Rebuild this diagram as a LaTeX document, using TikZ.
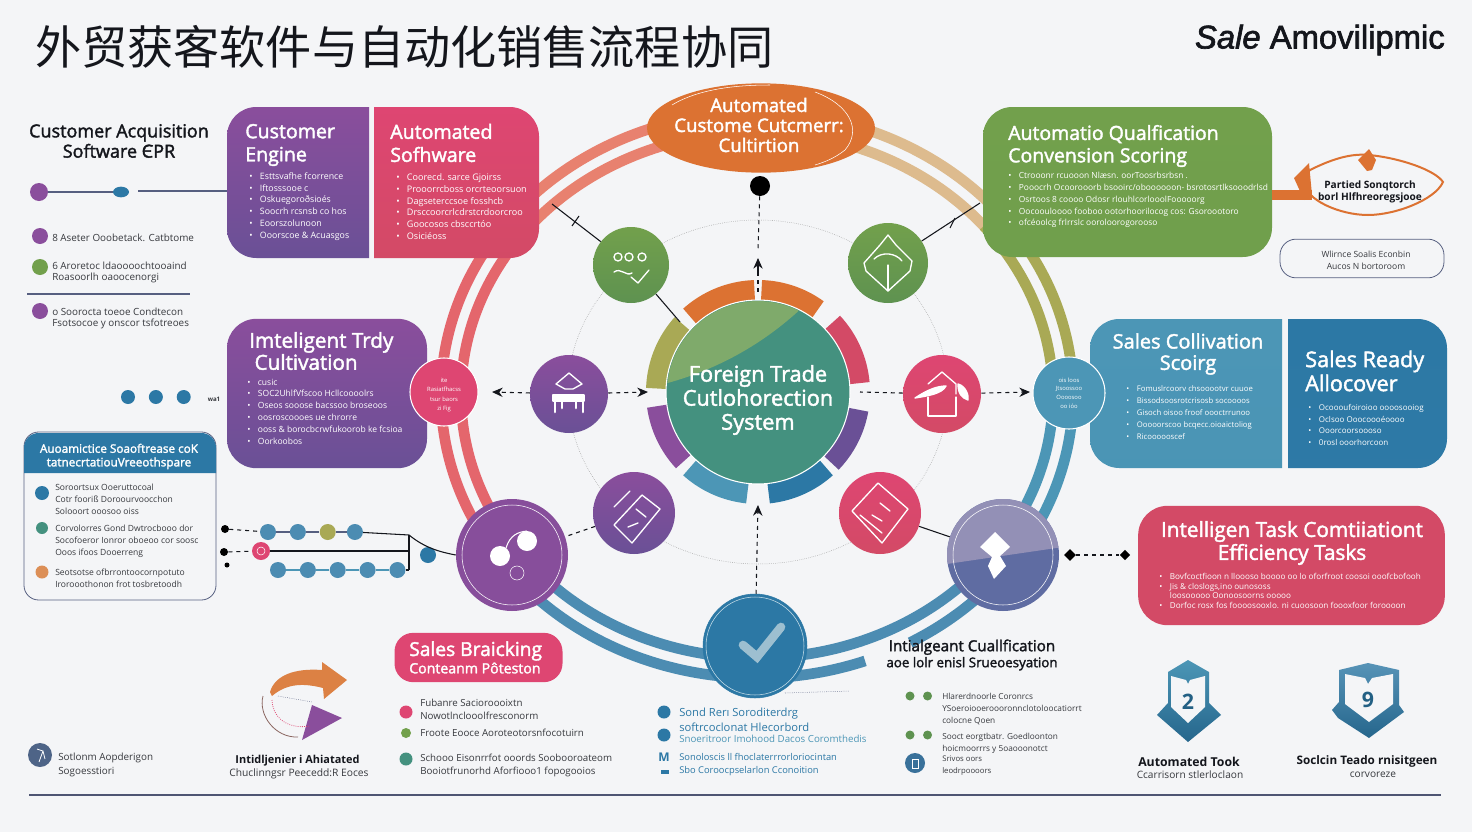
\documentclass[tikz,border=0pt]{standalone}
\usepackage{fontspec}
\setmainfont{Open Sans}
\newfontfamily\headfont[FakeBold=2]{Open Sans}
\newfontfamily\cjkfont{Noto Sans CJK SC}
\newfontfamily\brandfont[FakeBold=2]{Liberation Sans}
\usepackage{tikz}
\usetikzlibrary{shapes.geometric, positioning, arrows.meta}

\definecolor{Paper}{HTML}{F4F5F7}
\definecolor{Ink}{HTML}{14161C}
\definecolor{Slate}{HTML}{565F80}
\definecolor{PurpleA}{HTML}{8A4E9C}
\definecolor{PurpleB}{HTML}{6A5096}
\definecolor{RedA}{HTML}{DE4672}
\definecolor{RedB}{HTML}{D34A66}
\definecolor{GreenA}{HTML}{72A04C}
\definecolor{GreenB}{HTML}{5E9250}
\definecolor{BlueA}{HTML}{4C96B6}
\definecolor{BlueB}{HTML}{2C78A5}
\definecolor{Orange}{HTML}{DC7232}
\definecolor{Salmon}{HTML}{E8816F}
\definecolor{Rose}{HTML}{E4666C}
\definecolor{Tan}{HTML}{DDBB8E}
\definecolor{Olive}{HTML}{A9A955}
\definecolor{Teal}{HTML}{44917F}
\definecolor{Leaf}{HTML}{7FAA6B}
\definecolor{Violet}{HTML}{5F6CA2}
\definecolor{Lilac}{HTML}{9390B6}
\definecolor{Tick}{HTML}{9DBFD0}

% one band of the ring: colour, offset, start and end angle
\newcommand{\RingOne}[4]{%
    \draw[Band, #1] plot[domain=#3:#4, samples=50] ({757+(306#2)*cos(\x)}, {395+(273#2)*sin(\x)});
}
% one petal behind the core
\newcommand{\Petal}[3]{%
    \draw[line width=15pt, #1] plot[domain=#2:#3, samples=20] ({758+102*cos(\x)}, {392+102*sin(\x)});
}
\newcommand{\Bul}{\makebox[8pt][l]{•}}

\begin{document}
\begin{tikzpicture}[
        x=0.75pt, y=-0.75pt,
        Band/.style={line width=8pt},
        Disc/.style={circle, inner sep=0pt, minimum size=#1*1.5pt},
        Panel/.style={rectangle, rounded corners=22pt, inner sep=0pt},
        HeadText/.style={text=white, font=\headfont\fontsize{14.7}{17.3}\selectfont, align=left, inner sep=0pt},
        SmallText/.style={text=white, font=\fontsize{6.6}{8.85}\selectfont, align=left, inner sep=0pt},
        DarkText/.style={text=Ink!85, font=\fontsize{6.6}{9}\selectfont, align=left, inner sep=0pt},
        BoldText/.style={text=Ink, font=\fontsize{8.8}{11}\selectfont\bfseries, align=center, inner sep=0pt},
        Link/.style={thick, dashed, Ink},
        Tie/.style={thick, Ink},
        BigTip/.style={-{Stealth[length=8pt, width=7pt]}},
        Icon/.style={draw=white, line width=1pt, line cap=round, line join=round},
        ChainDot/.style={Disc=8, fill=BlueB!85}
    ]

    % Page
    \fill[Paper] (0,0) rectangle (1472,832);
    \useasboundingbox (0,0) rectangle (1472,832);

    % Title row
    \node (Title) [anchor=west, inner sep=0pt, text=Ink, font=\cjkfont\fontsize{34.6}{36}\selectfont] at (35,47) {外贸获客软件与自动化销售流程协同};
    \node (Brand) [anchor=east, inner sep=0pt, text=Ink, font=\brandfont\fontsize{24.6}{26}\selectfont] at (1445,40) {\textit{Sale} Amovilipmic};

    % Outer ring
    \RingOne{Salmon}{+10}{215}{258}
    \RingOne{Salmon}{-10}{215}{258}
    \RingOne{Tan}{+10}{-78}{-40}
    \RingOne{Tan}{-10}{-78}{-40}
    \RingOne{Rose}{+10}{145}{218}
    \RingOne{Rose}{-10}{145}{218}
    \RingOne{Olive}{+10}{-40}{0}
    \RingOne{Olive}{-10}{-40}{0}
    \RingOne{BlueB!85}{+10}{85}{145}
    \RingOne{BlueB!85}{-10}{85}{145}
    \RingOne{BlueB!85}{-10}{38}{90}
    \RingOne{BlueB!85}{+10}{70}{90}
    \RingOne{BlueB!85}{+10}{38}{61}
    \RingOne{BlueA}{+10}{0}{38}
    \RingOne{BlueA}{-10}{0}{38}

    % Dotted orbit
    \draw[densely dotted, gray!80] (758,392) ellipse (190 and 172);

    % Petals
    \Petal{Orange}{228}{268}
    \Petal{Orange}{272}{306}
    \Petal{Olive}{182}{222}
    \Petal{RedB}{317}{355}
    \Petal{PurpleA}{137}{172}
    \Petal{PurpleB}{10}{44}
    \Petal{BlueA}{96}{132}
    \Petal{BlueB}{48}{84}

    % Core
    \node (Core) [Disc=92, fill=Teal, draw=white, thick] at (758,392) {};
    \begin{scope}
        \clip (758,392) circle (91);
        \fill[Leaf] (660,385) .. controls (720,370) and (770,340) .. (810,300) -- (660,290) -- cycle;
    \end{scope}
    \node (CoreText) [text=white, font=\headfont\fontsize{16.3}{18}\selectfont, align=center, inner sep=0pt] at (758,400) {Foreign Trade\\Cutlohorection\\System};

    % Top ellipse and black dot
    \node (Top) [ellipse, fill=Orange, minimum width=171pt, minimum height=67pt, inner sep=0pt] at (761,128) {};
    \draw[white, thin] (672,105) .. controls (700,88) and (740,85) .. (770,85);
    \draw[white, thin] (815,92) .. controls (850,105) and (862,130) .. (845,150) .. controls (835,158) and (825,162) .. (815,165);
    \node (TopText) [text=white, font=\headfont\fontsize{14}{15}\selectfont, align=center, inner sep=0pt] at (759,125) {Automated\\Custome Cutcmerr:\\Cultirtion};
    \node (BlackDot) [Disc=10, fill=black] at (760,186) {};

    % Ring discs
    \node (GreenL) [Disc=38, top color=GreenA, bottom color=GreenB] at (631,265) {};
    \node (GreenR) [Disc=40, top color=GreenA, bottom color=GreenB] at (888,263) {};
    \node (PurpleL) [Disc=39, top color=PurpleA, bottom color=PurpleB] at (569,394) {};
    \node (RedR) [Disc=39, top color=RedA, bottom color=RedB] at (942,394) {};
    \node (PurpleD) [Disc=41, top color=PurpleA, bottom color=PurpleB] at (634,513) {};
    \node (RedD) [Disc=41, top color=RedA, bottom color=RedB] at (880,513) {};

    % Dashed links
    \coordinate (TipUp) at (758,258);
    \coordinate (CoreTop) at (758,292);
    \draw[Link] (BlackDot) -- (758,250);
    \draw[BigTip, thick, Ink] (758,272) -- (TipUp);
    \draw[Link] (758,272) -- (CoreTop);
    \coordinate (TipLow) at (758,505);
    \node (CheckDisc) [Disc=52, fill=BlueB, draw=BlueB] at (755,646) {};
    \draw[BigTip, Link] (CheckDisc) -- (TipLow);
    \coordinate (TipL) at (648,392);
    \coordinate (TipLL) at (492,392);
    \coordinate (TipR) at (1030,392);
    \draw[BigTip, Link] (PurpleL) -- (TipL);
    \draw[BigTip, Link] (PurpleL) -- (TipLL);
    \draw[BigTip, Link] (RedR) -- (TipR);
    \draw[Link] (RedR) -- (860,392);
    \coordinate (TieA) at (552,204);
    \coordinate (TieB) at (980,203);
    \coordinate (TieC) at (680,322);
    \draw[Tie] (GreenL) -- (TieA);
    \draw[Tie] (GreenR) -- (TieB);
    \draw[Tie] (GreenL) -- (TieC);
    \draw[Tie] (572,226) -- (579,216) (950,228) -- (955,218);

    % Left panels
    \path[top color=PurpleA, bottom color=PurpleB] (369,107) -- (369,258) [rounded corners=22pt] -- (227,258) -- (227,107) [sharp corners] -- (369,107) -- cycle;
    \path[top color=RedA, bottom color=RedB] (374,258) -- (374,107) [rounded corners=22pt] -- (539,107) -- (539,258) [sharp corners] -- (374,258) -- cycle;
    \node (EngineHead) [HeadText, anchor=west] at (245,145) {Customer\\Engine};
    \node (SoftHead) [HeadText, anchor=west] at (390,143) {Automated\\Sofhware};
    \node (EngineList) [SmallText, anchor=west] at (249,206.5) {\Bul Esttsvafhe fcorrence\\\Bul Iftosssooe c\\\Bul Oskuegoroðsioés\\\Bul Soocrh rcsnsb co hos\\\Bul Eoorszolunoon\\\Bul Ooorscoe \& Acuasgos};
    \node (SoftList) [SmallText, anchor=west, font=\fontsize{6.8}{8.85}\selectfont] at (396,206.5) {\Bul Coorecd. sarce Gjoirss\\\Bul Prooorrcboss orcrteoorsuon\\\Bul Dagseterccsoe fosshcb\\\Bul Drsccoorcrlcdrstcrdoorcroo\\\Bul Goocosos cbsccrtóo\\\Bul Osiciéoss};
    \node (Trady) [Panel, minimum width=150pt, minimum height=112pt, top color=PurpleA, bottom color=PurpleB] at (327,393.5) {};
    \node (TradyHead) [HeadText, anchor=west, font=\headfont\fontsize{15.5}{16.5}\selectfont] at (249,351) {Imteligent Trdy\\\ Cultivation};
    \node (TradyList) [SmallText, anchor=west, font=\fontsize{6.4}{8.85}\selectfont] at (247,411.5) {\Bul cusic\\\Bul SOC2UhlfVfscoo Hcllcoooolrs\\\Bul Oseos sooose bacssoo broseoos\\\Bul oosroscoooes ue chrorre\\\Bul ooss \& borocbcrwfukoorob ke fcsioa\\\Bul Oorkoobos};
    \node (RedSmall) [Disc=34, fill=RedA, draw=white, thick] at (444,392) {};
    \node (RedSmallText) [text=white, font=\fontsize{4.4}{7}\selectfont, align=center, inner sep=0pt] at (444,395) {ite\\Rasiatfhacss\\tsur baors\\zi Fig};

    % Right panels
    \node (Qualify) [Panel, minimum width=216.75pt, minimum height=112.5pt, top color=GreenA, bottom color=GreenA!90!GreenB] at (1127.5,182) {};
    \node (QualifyHead) [HeadText, anchor=west, font=\headfont\fontsize{14.6}{16.8}\selectfont] at (1008,146) {Automatio Qualfication\\Convension Scoring};
    \node (QualifyList) [SmallText, anchor=west, font=\fontsize{6.3}{8.9}\selectfont] at (1008,200) {\Bul Ctrooonr rcuooon Nlæsn. oorToosrbsrbsn .\\\Bul Pooocrh Ocoorooorb bsooirc/oboooooon- bsrotosrtlksooodrlsd\\\Bul Osrtoos 8 coooo Odosr rlouhlcorlooolFooooorg\\\Bul Oocoouloooo fooboo ootorhoorilocog cos: Gsoroootoro\\\Bul ofcéoolcg frlrrslc ooroloorogorooso};
    \draw[line width=7.5pt, Orange] (Qualify.east |- 0,195) -- (1312,195);
    \draw[Orange, line width=1.5pt] (1310,170) .. controls (1330,160) and (1350,153) .. (1369,155) .. controls (1400,158) and (1435,170) .. (1443,182) .. controls (1435,200) and (1395,215) .. (1368,215) .. controls (1340,215) and (1305,200) .. (1304,182) .. controls (1304,178) and (1306,174) .. (1310,170);
    \fill[Orange] (1294,178) -- (1309,163) -- (1312,195) -- (1304,200) -- cycle;
    \fill[Orange] (1358,160) -- (1369,149) -- (1376,160) -- (1372,170) -- (1367,171) -- cycle;
    \node (BadgeText) [text=Ink, font=\fontsize{7.6}{9}\selectfont\bfseries, align=center, inner sep=0pt] at (1370,192) {Partied Sonqtorch\\borl Hlfhreoregsjooe};
    \node (NoteBox) [Panel, rounded corners=12pt, draw=Slate, semithick, minimum width=123pt, minimum height=29pt] at (1362,258.5) {};
    \node (NoteText) [DarkText, align=center, font=\fontsize{6.4}{9}\selectfont] at (1366,260) {Wlirnce Soalis Econbin\\Aucos N bortoroom};

    \path[top color=BlueA, bottom color=BlueA!95!BlueB] (1282,468) -- (1282,319) [rounded corners=22pt] -- (1090,319) -- (1090,468) [sharp corners] -- (1282,468) -- cycle;
    \path[top color=BlueB, bottom color=BlueB!95!BlueA] (1288,319) -- (1288,468) [rounded corners=22pt] -- (1447,468) -- (1447,319) [sharp corners] -- (1288,319) -- cycle;
    \node (ScoreHead) [HeadText, align=center, anchor=center, font=\headfont\fontsize{15}{16}\selectfont] at (1188,354) {Sales Collivation\\Scoirg};
    \node (ReadyHead) [HeadText, anchor=west, font=\headfont\fontsize{16.2}{18}\selectfont] at (1305,371) {Sales Ready\\Allocover};
    \node (ScoreList) [SmallText, anchor=west, font=\fontsize{5.8}{9}\selectfont] at (1126,413) {\Bul Fomuslrcoorv chsooootvr cuuoe\\\Bul Bissodsoosrotcrisosb socoooos\\\Bul Gisoch oisoo froof oooctrrunoo\\\Bul Ooooorscoo bcqecc.oioaictoliog\\\Bul Ricoooooscef};
    \node (ReadyList) [SmallText, anchor=west, font=\fontsize{6}{8.8}\selectfont] at (1308,425) {\Bul Ocoooufoiroioo oooosooiog\\\Bul Oclsoo Ooocoooéoooo\\\Bul Ooorcoorsoooso\\\Bul 0rosl ooorhorcoon};
    \node (BlueSmall) [Disc=36, fill=BlueA, draw=white, thick] at (1069,393) {};
    \node (BlueSmallText) [text=white, font=\fontsize{4.4}{6.6}\selectfont, align=center, inner sep=0pt] at (1069,393) {ois loos\\Jtsoossoo\\Oooosoo\\oo ióo};
    \node (TaskBox) [Panel, minimum width=230pt, minimum height=89.5pt, fill=RedB] at (1291.5,565.5) {};
    \node (TaskHead) [HeadText, align=center, anchor=center, font=\headfont\fontsize{15.6}{17.2}\selectfont] at (1292,543) {Intelligen Task Comtiiationt\\Efficiency Tasks};
    \node (TaskList) [SmallText, anchor=west, font=\fontsize{6.1}{7.25}\selectfont] at (1159,591) {\Bul Bovfcoctfioon n lloooso boooo oo lo oforfroot coosoi ooofcbofooh\\\Bul Jis \& closlogs,ino ounososs\\\hspace{8pt}loosooooo Oonoosoorns ooooo\\\Bul Dorfoc rosx fos foooosooxlo. ni cuoosoon foooxfoor foroooon};

    % Big ring discs
    \node (BigPurple) [Disc=56, fill=PurpleA!90!PurpleB] at (512,555) {};
    \draw[white, thin] (BigPurple.center) circle (50);
    \node (BigViolet) [Disc=56, fill=Violet] at (1003,555) {};
    \begin{scope}
        \clip (BigViolet.center) circle (56);
        \fill[Lilac] (940,565) -- (1070,546) -- (1070,490) -- (940,490) -- cycle;
    \end{scope}
    \draw[white, thin] (BigViolet.center) circle (50);
    \draw[Link] (PurpleD) -- (BigPurple);
    \draw[Tie] (RedD) -- (BigViolet);
    \draw[white!70!BlueA, thin] (CheckDisc.center) circle (49);
    \draw[line width=6.5pt, Tick, line cap=round] (743,645) -- (757,657) -- (781,627);
    \draw[Slate, densely dotted] (785,693) -- (850,691);

    % Icons
    \begin{scope}[shift={(631,265)}, Icon]
        \draw (-13,-8) circle (4) (-2,-8) circle (4) (11,-8) circle (4);
        \draw (-17,7) .. controls (-10,2) and (-5,12) .. (1,8);
        \draw (0,12) -- (7,18) -- (18,5);
    \end{scope}
    \begin{scope}[shift={(888,263)}, Icon]
        \draw (-24,0) -- (-8,-18) -- (0,-28) -- (8,-18) -- (24,-2) -- (22,8) -- (0,28) -- (-22,8) -- cycle;
        \draw (-14,-4) .. controls (-6,-12) and (8,-10) .. (14,-2);
        \draw (0,28) -- (0,2);
    \end{scope}
    \begin{scope}[shift={(569,394)}, Icon]
        \draw (-13,-10) -- (0,-21) -- (13,-10) -- (4,-5) -- (-4,-5) -- cycle;
        \draw[fill=white] (-16,1) rectangle (15,7);
        \draw[line width=2pt] (-14,7) -- (-14,18) (-7,7) -- (-7,14) (7,7) -- (7,14) (14,7) -- (14,18);
    \end{scope}
    \begin{scope}[shift={(942,394)}, Icon]
        \draw (-14,-10) -- (0,-22) -- (14,-10) -- (14,0);
        \draw (-14,3) -- (-14,22) -- (14,22) -- (14,3);
        \draw[fill=white] (-27,4) .. controls (-15,-4) and (-5,-8) .. (4,-8) .. controls (0,0) and (-15,2) .. (-27,4);
        \draw[fill=white] (16,-10) .. controls (24,-8) and (27,2) .. (26,6) .. controls (20,4) and (16,0) .. (16,-10);
    \end{scope}
    \begin{scope}[shift={(634,513)}, Icon]
        \draw (-20,12) -- (8,-18) -- (26,-4) -- (-2,30) -- cycle;
        \draw (-12,-14) -- (-4,-22) (-20,-6) -- (-12,-14);
        \draw (2,-4) -- (12,4) (-6,14) -- (4,10);
    \end{scope}
    \begin{scope}[shift={(880,513)}, Icon]
        \draw (-28,-2) -- (-2,-30) -- (28,-4) -- (2,30) -- cycle;
        \draw (-20,2) -- (2,20);
        \draw (0,-10) -- (10,-2) (-8,2) -- (2,8);
    \end{scope}
    \fill[white] (500,556) circle (10) (527,541) circle (10);
    \draw[white, thick] (506,548) .. controls (510,535) and (518,532) .. (527,531);
    \draw[white, thin] (517,573) circle (7);
    \fill[white] (995,532) -- (1010,547) -- (1000,556) -- (1006,566) -- (994,579) -- (988,566) -- (992,557) -- (980,547) -- cycle;

    % Left column
    \node (AcqTitle) [BoldText, font=\headfont\fontsize{13.5}{15.2}\selectfont] at (119,141) {Customer Acquisition\\Software ЄPR};
    \node (TimeA) [Disc=9, fill=PurpleA] at (39,192) {};
    \node (TimeB) [ellipse, fill=BlueB, minimum width=12pt, minimum height=8pt, inner sep=0pt] at (121,192) {};
    \coordinate (TimeC) at (138,191);
    \draw[thick, Slate] (TimeA) -- (TimeB);
    \draw[thick, Slate] (TimeC) -- (227,191);
    \node (DotA) [Disc=8, fill=PurpleA] at (40,236) {};
    \node (DotB) [Disc=8, fill=GreenA] at (40,267) {};
    \node (DotC) [Disc=8, fill=PurpleA] at (40,311) {};
    \node (LineA) [DarkText, anchor=west, font=\fontsize{7.4}{8.3}\selectfont] at (52,238) {8 Aseter Ooobetack. Catbtome};
    \node (LineB) [DarkText, anchor=west, font=\fontsize{7.4}{8.3}\selectfont] at (52,272) {6 Aroretoc ldaoooochtooaind\\Roasoorlh oaoocenorgi};
    \node (LineC) [DarkText, anchor=west, font=\fontsize{7.4}{8.3}\selectfont] at (52,318) {o Soorocta toeoe Condtecon\\Fsotsocoe y onscor tsfotreoes};
    \draw[thick, Slate] (27,294) -- (190,294);
    \node (TrioA) [Disc=7, fill=BlueB] at (128,397) {};
    \node (TrioB) [Disc=7, fill=BlueB, right=10pt of TrioA] {};
    \node (TrioC) [Disc=7, fill=BlueB, right=10pt of TrioB] {};
    \node (TrioNote) [DarkText, font=\fontsize{4.6}{6}\selectfont\bfseries] at (214,399) {wa1};

    % Blue card
    \node (Card) [Panel, rounded corners=11pt, fill=Paper, draw=Slate, semithick, minimum width=144pt, minimum height=126pt] at (120,516) {};
    \path[fill=BlueB] (24,473) [rounded corners=11pt] -- (24,433) -- (216,433) [sharp corners] -- (216,473) -- cycle;
    \node (CardHead) [text=white, font=\headfont\fontsize{8.8}{10.2}\selectfont, align=center, inner sep=0pt] at (119,456.5) {Auoamictice Soaoftrease coK\\tatnecrtatiouVreeothspare};
    \node (CardA) [Disc=7, fill=BlueB] at (42,493) {};
    \node (CardB) [Disc=6, fill=Teal] at (42,528) {};
    \node (CardC) [Disc=6.5, fill=Orange!60!Tan] at (42,572) {};
    \node (CardTextA) [DarkText, anchor=west, font=\fontsize{6.4}{9}\selectfont] at (55,499) {Soroortsux Ooeruttocoal\\Cotr fooriß Doroourvoocchon\\Solooort ooosoo oiss};
    \node (CardTextB) [DarkText, anchor=west, font=\fontsize{6.4}{9}\selectfont] at (55,541) {Corvolorres Gond Dwtrocbooo dor\\Socofoeror Ionror oboeoo cor soosc\\Ooos ifoos Dooerreng};
    \node (CardTextC) [DarkText, anchor=west, font=\fontsize{6.4}{9}\selectfont] at (55,578) {Seotsotse ofbrrontoocornpotuto\\Irorooothonon frot tosbretoodh};

    % Chains
    \node (ChainA) [ChainDot] at (268,532) {};
    \node (ChainB) [ChainDot, right=10pt of ChainA] {};
    \node (ChainC) [ChainDot, fill=Olive, right=10pt of ChainB] {};
    \node (ChainD) [ChainDot, right=8pt of ChainC] {};
    \node (StubA) [Disc=4, fill=black] at (225,529) {};
    \node (Spiral) [Disc=9, fill=RedA] at (261,551) {};
    \draw[white, thin] (Spiral.center) circle (4);
    \node (StubB) [Disc=4, fill=black] at (224,552) {};
    \node (StubC) [Disc=2.5, fill=black] at (227,565) {};
    \node (BeadA) [ChainDot] at (278,570) {};
    \node (BeadB) [ChainDot, right=10pt of BeadA] {};
    \node (BeadC) [ChainDot, right=10pt of BeadB] {};
    \node (BeadD) [ChainDot, right=10pt of BeadC] {};
    \node (BeadE) [ChainDot, right=10pt of BeadD] {};
    \node (HubDot) [Disc=8, fill=BlueB] at (428,555) {};
    \coordinate (BarTop) at (409,535);
    \coordinate (BarLow) at (409,570);
    \coordinate (BarMid) at (409,551);
    \draw[Link] (StubA) -- (ChainA);
    \draw[Link] (StubB) -- (Spiral);
    \draw[Slate, thick] (ChainA) -- (ChainB) (ChainB) -- (ChainC) (ChainC) -- (ChainD);
    \draw[Tie] (ChainD) -- (BarTop);
    \draw[Tie] (Spiral) -- (BarMid);
    \draw[BlueA, very thick] (BeadA) -- (BeadB) (BeadB) -- (BeadC) (BeadC) -- (BeadD) (BeadD) -- (BeadE);
    \draw[Tie] (BeadE) -- (BarLow);
    \draw[Tie] (BarTop) -- (BarLow);
    \draw[Tie] (BarTop) .. controls (425,548) and (440,552) .. (BigPurple.west);

    % Sales pill
    \node (Pill) [Panel, rounded corners=14pt, minimum width=126pt, minimum height=37pt, fill=RedA] at (478.5,657.5) {};
    \node (PillTextA) [text=white, font=\headfont\fontsize{14.4}{15}\selectfont, anchor=west, inner sep=0pt] at (409,651) {Sales Braicking};
    \node (PillTextB) [text=white, font=\headfont\fontsize{10.6}{11}\selectfont, anchor=west, inner sep=0pt] at (409,668) {Conteanm Pôteston};
    \node (PillDotA) [Disc=6.5, fill=RedA] at (406,712) {};
    \node (PillDotB) [Disc=5, fill=GreenA] at (406,733) {};
    \node (PillDotC) [Disc=6.5, fill=Teal] at (406,759) {};
    \node (PillListA) [DarkText, anchor=west, font=\fontsize{7.3}{9.6}\selectfont] at (420,709.5) {Fubanre Sacioroooixtn\\Nowotlnclooolfresconorm};
    \node (PillListB) [DarkText, anchor=west, font=\fontsize{7.3}{9.6}\selectfont] at (420,733) {Froote Eooce Aoroteotorsnfocotuirn};
    \node (PillListC) [DarkText, anchor=west, font=\fontsize{7.3}{9.6}\selectfont] at (420,765.5) {Schooo Eisonrrfot ooords Soobooroateom\\Booiotfrunorhd Aforfiooo1 fopogooios};

    % Turn icon
    \fill[Orange!80!Tan] (270,692) .. controls (275,675) and (295,668) .. (322,670) -- (322,662) -- (347,680) -- (324,699) -- (323,688) .. controls (300,682) and (285,685) .. (272,696) -- cycle;
    \fill[PurpleA] (312,705) -- (342,718) -- (302,740) -- cycle;
    \draw[Orange!40!Slate, semithick] (263,696) .. controls (258,715) and (275,738) .. (298,737);
    \draw[RedA, semithick, densely dotted] (272,700) .. controls (272,715) and (285,730) .. (310,726);
    \draw[Slate, densely dotted] (278,696) -- (312,702);

    % Bottom captions
    \node (MiniIcon) [Disc=12, fill=Slate!80!BlueB] at (40,755) {};
    \draw[white, semithick] (37,749) -- (43,751) -- (39,762) (43,751) -- (45,759);
    \node (MiniA) [DarkText, anchor=west, font=\fontsize{7.4}{10}\selectfont] at (58,765) {Sotlonm Aopderigon\\Sogoesstiori};
    \node (MidA) [BoldText, font=\fontsize{8.2}{10}\selectfont\bfseries] at (297.5,761) {Intidljenier i Ahiatated};
    \node (MidB) [DarkText, font=\fontsize{7.7}{9}\selectfont] at (299,774) {Chuclinngsr Peecedd:R Eoces};

    % Centre list
    \node (SmA) [Disc=6.5, fill=BlueB] at (664,712) {};
    \node (SmB) [Disc=6.5, fill=BlueB] at (664,735) {};
    \node (SmC) [font=\fontsize{9}{9}\selectfont\bfseries, text=BlueB, inner sep=0pt] at (664,757) {M};
    \node (SmD) [rectangle, fill=BlueB, minimum width=6pt, minimum height=3pt, inner sep=0pt] at (665,772) {};
    \node (SmTextA) [DarkText, text=BlueB, anchor=west, font=\fontsize{8.4}{11.3}\selectfont] at (679,720) {Sond Rerı Soroditerdrg\\softrcoclonat Hlecorbord};
    \node (SmTextB) [DarkText, text=BlueA, anchor=west, font=\fontsize{7.3}{9}\selectfont] at (679,739) {Snoeritroor Imohood Dacos Coromthedis};
    \node (SmTextC) [DarkText, text=BlueB, anchor=west, font=\fontsize{7}{9.7}\selectfont] at (679,765) {Sonoloscis ll fhoclaterrrorloriocintan\\Sbo Coroocpselarlon Cconoition};

    % Qualification list
    \node (QualTitle) [BoldText, font=\headfont\fontsize{10}{12}\selectfont] at (972,655) {{\fontsize{11.4}{12}\selectfont Intialgeant Cuallfication}\\aoe lolr enisl Srueoesyation};
    \node (QualDotA) [Disc=4.5, fill=GreenB] at (910,696) {};
    \node (QualDotB) [Disc=4.5, fill=GreenB, right=6pt of QualDotA] {};
    \node (QualDotC) [Disc=4.5, fill=GreenB] at (910,735) {};
    \node (QualDotD) [Disc=4.5, fill=GreenB, right=6pt of QualDotC] {};
    \node (QualIcon) [Disc=10, fill=BlueB!70!Slate] at (915,763) {};
    \draw[white, thin] (912,759) rectangle (918,768);
    \node (QualTextA) [DarkText, anchor=west, font=\fontsize{6.2}{9}\selectfont] at (942,709) {Hlarerdnoorle Coronrcs\\YSoeroiooeroooronnclotoloocatiorrt\\colocne Qoen};
    \node (QualTextB) [DarkText, anchor=west, font=\fontsize{6.2}{9}\selectfont] at (942,743) {Sooct eorgtbatr. Goedloonton\\hoicmoorrrs y 5oaooonotct};
    \node (QualTextC) [DarkText, anchor=west, font=\fontsize{5.8}{8.4}\selectfont] at (942,765.5) {Srivos oors\\leodrpoooors};

    % Shields
    \path[top color=BlueA, bottom color=BlueB!85!black] (1188,660) -- (1209,672) -- (1209,703) -- (1221,715) -- (1188,742) -- (1157,715) -- (1168,703) -- (1168,672) -- cycle;
    \fill[Paper] (1171,676) -- (1186,680) -- (1188,684) -- (1190,680) -- (1205,676) -- (1205,707) -- (1188,723) -- (1171,707) -- cycle;
    \node (ShieldA) [text=BlueB!80!black, font=\fontsize{16}{16}\selectfont\bfseries, inner sep=0pt] at (1188,702) {2};
    \path[top color=BlueB!80, bottom color=BlueB!85!black] (1368,663) -- (1399,670) -- (1399,705) -- (1404,712) -- (1369,738) -- (1338,718) -- (1332,710) -- (1339,702) -- (1339,670) -- cycle;
    \fill[Paper] (1345,674) -- (1365,678) -- (1368,684) -- (1372,678) -- (1393,674) -- (1393,704) -- (1369,722) -- (1345,704) -- cycle;
    \node (ShieldB) [text=BlueB!80!black, font=\fontsize{16}{16}\selectfont\bfseries, inner sep=0pt] at (1368,700) {9};
    \node (ShieldTextA) [BoldText, font=\fontsize{9.2}{10}\selectfont\bfseries] at (1189,762) {Automated Took};
    \node (ShieldTextB) [DarkText, font=\fontsize{7.6}{9}\selectfont] at (1190,775) {Ccarrisorn stlerloclaon};
    \node (ShieldTextC) [BoldText, font=\fontsize{8.8}{10}\selectfont\bfseries] at (1367,761) {Soclcin Teado rnisitgeen};
    \node (ShieldTextD) [DarkText, font=\fontsize{7.6}{9}\selectfont] at (1373,775) {corvoreze};

    % Links on the task panel
    \node (StubD) [diamond, fill=black, minimum size=9pt, inner sep=0pt] at (1070,555) {};
    \node (StubE) [diamond, fill=black, minimum size=8pt, inner sep=0pt] at (1125,555) {};
    \draw[Link] (StubD) -- (StubE);

    % Foot rule
    \draw[line width=1.5pt, Slate!90!black] (29,795) -- (1441,795);

\end{tikzpicture}
\end{document}
